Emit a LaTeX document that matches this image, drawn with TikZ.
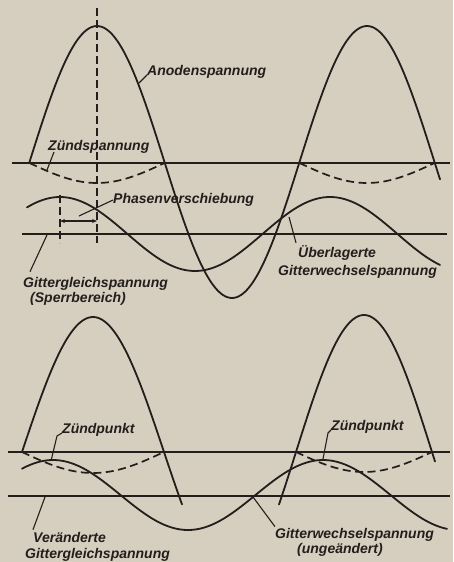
\documentclass[tikz,border=0pt]{standalone}
\usepackage{fontspec}
\setmainfont{Liberation Sans}
\usetikzlibrary{arrows.meta}
\definecolor{paper}{RGB}{214,206,191}
\definecolor{ink}{RGB}{35,30,28}
\begin{document}
\begin{tikzpicture}[x=1pt,y=-1pt,color=ink,
  lbl/.style={font=\fontsize{14}{15}\selectfont\bfseries\itshape, text=ink, inner sep=0pt, anchor=base west},
  curve/.style={line width=1.8pt, line join=round, line cap=round},
  zuend/.style={line width=1.7pt, dash pattern=on 8pt off 4.5pt},
  axisline/.style={line width=1.7pt},
  lead/.style={line width=1.1pt},
  guide/.style={line width=1.1pt, dash pattern=on 8pt off 4pt}]
\fill[paper] (0,0) rectangle (453,562);
\useasboundingbox (0,0) rectangle (453,562);

% ---------------- upper diagram ----------------
% axes
\draw[axisline] (12,163) -- (450,163);
\draw[axisline] (22,234) -- (447,234);
% vertical guides
\draw[guide] (97,8) -- (97,243);
\draw[guide] (60,195) -- (60,243);
% anode voltage (full sine)
\draw[curve] plot[domain=29.5:440, samples=160, smooth] (\x, {162-136*sin((\x-29.5)*1.333333)});
% ignition voltage (dashed)
\draw[zuend] plot[domain=29.5:164.5, samples=40, smooth] (\x, {163+20*sin((\x-29.5)*1.333333)});
\draw[zuend] plot[domain=299.5:434.5, samples=40, smooth] (\x, {163+20*sin((\x-299.5)*1.333333)});
% grid voltage
\draw[curve] plot[domain=27:440, samples=140, smooth] (\x, {234-37*cos((\x-60)*1.333333)});
% phase shift arrow
\coordinate (ph1) at (60,221);
\coordinate (ph2) at (97,221);
\draw[lead, {Stealth[length=5pt,width=4pt]}-{Stealth[length=5pt,width=4pt]}] (ph1) -- (ph2);

% labels upper
\node[lbl] (anod) at (147,75) {Anodenspannung};
\coordinate (anodP) at (139,83);
\draw[lead] (anod.base west) -- (anodP);

\node[lbl] (zsp) at (48,150) {Zündspannung};
\coordinate (zspP) at (47,170);
\draw[lead] ([xshift=6pt,yshift=-2pt]zsp.base west) -- (zspP);

\node[lbl] (phs) at (113,203) {Phasenverschiebung};
\coordinate (phP) at (79,216);
\draw[lead] ([yshift=3pt]phs.base west) -- (phP);

\node[lbl] (ggs) at (23,287) {Gittergleichspannung};
\node[lbl] (sperr) at (30,302) {(Sperrbereich)};
\coordinate (ggsP) at (47,235);
\draw[lead] ([xshift=7pt,yshift=5pt]ggs.north west) -- (ggsP);

\node[lbl] (ueb) at (298,257) {Überlagerte};
\node[lbl] (gws) at (278,275) {Gitterwechselspannung};
\coordinate (uebP) at (289,217);
\draw[lead] ([xshift=-2pt,yshift=2pt]ueb.north west) -- (uebP);

% ---------------- lower diagram ----------------
\draw[axisline] (8,452) -- (450,452);
\draw[axisline] (8,496) -- (450,496);
% anode arches
\draw[curve] plot[domain=22:182, samples=70, smooth] (\x, {452-135*sin((\x-22)*1.267606)});
\draw[curve] plot[domain=279:435, samples=70, smooth] (\x, {452-137*sin((\x-296)*1.323529)});
% ignition voltage
\draw[zuend] plot[domain=22:164, samples=40, smooth] (\x, {452+21*sin((\x-22)*1.267606)});
\draw[zuend] plot[domain=296:432, samples=40, smooth] (\x, {452+20*sin((\x-296)*1.323529)});
% grid voltage
\draw[curve] plot[domain=22:447, samples=140, smooth] (\x, {495-35*cos((\x-53)*1.333333)});

% labels lower
\node[lbl] (zp1) at (62,433) {Zündpunkt};
\coordinate (zpL) at (51,461);
\draw[lead] (zp1.base west) -- ++(-5,3) -- (zpL);

\node[lbl] (zp2) at (331,430) {Zündpunkt};
\coordinate (zpR) at (323,459);
\draw[lead] (zp2.base west) -- ++(-3,3) -- (zpR);

\node[lbl] (ver) at (33,542) {Veränderte};
\node[lbl] (ggs2) at (25,558) {Gittergleichspannung};
\coordinate (verP) at (45,497);
\draw[lead] ([yshift=2pt]ver.north west) -- (verP);

\node[lbl] (gws2) at (275,538) {Gitterwechselspannung};
\node[lbl] (unge) at (297,553) {(ungeändert)};
\coordinate (gwsP) at (253,497);
\draw[lead] ([yshift=1pt]gws2.north west) -- (gwsP);
\end{tikzpicture}
\end{document}
